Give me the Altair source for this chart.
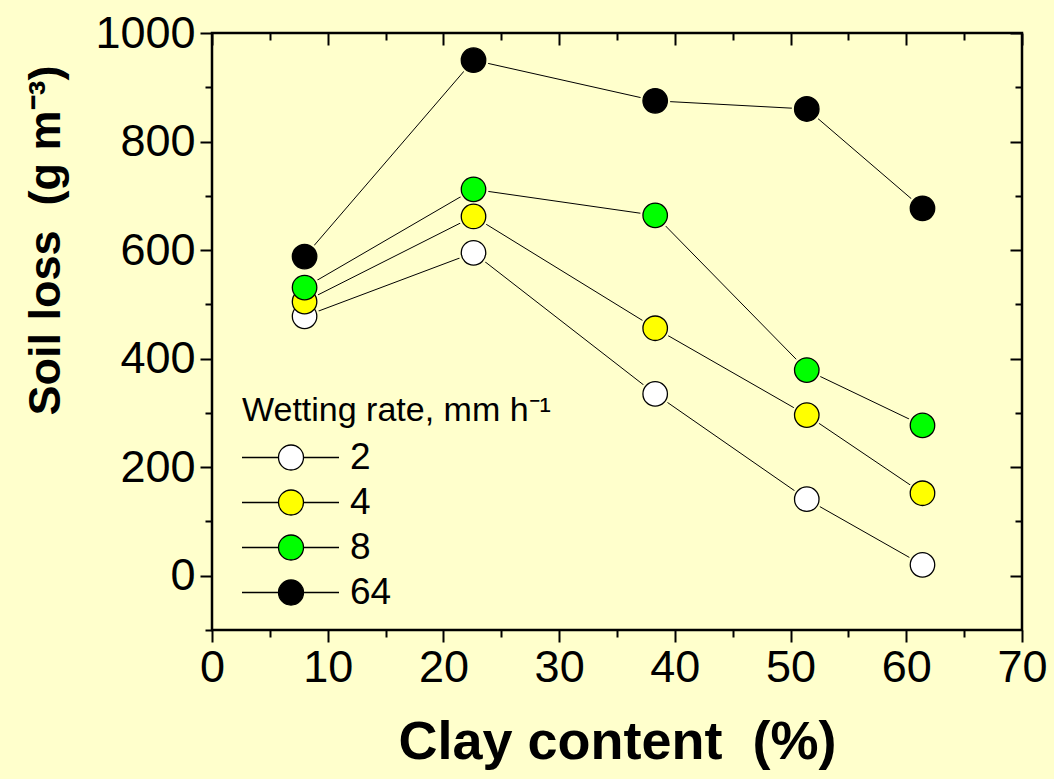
import altair as alt
import pandas as pd

# ---- data ----
clay = [8.0, 22.6, 38.3, 51.4, 61.4]
rates = ["2", "4", "8", "64"]
loss_2 = [478, 595, 335, 141, 20]
loss_4 = [505, 662, 456, 296, 152]
loss_8 = [531, 712, 664, 379, 277]
loss_64 = [588, 950, 875, 860, 677]
fills = ["#FFFFFF", "#FFFF00", "#00FF00", "#000000"]

x_major = [0, 10, 20, 30, 40, 50, 60, 70]
x_minor = [5, 15, 25, 35, 45, 55, 65]
y_major = [0, 200, 400, 600, 800, 1000]
y_minor = [-100, 100, 300, 500, 700, 900]

rows = []
for r, vals in zip(rates, [loss_2, loss_4, loss_8, loss_64]):
    for c, v in zip(clay, vals):
        rows.append({"clay": c, "loss": v, "rate": r})
df = pd.DataFrame(rows)

BG = "#FFFFCC"
FONT = "Liberation Sans"
W, H = 810, 597

xs = alt.Scale(domain=[0, 70], nice=False, zero=False)
ys = alt.Scale(domain=[-100, 1000], nice=False, zero=False)


def ax(orient, values, size, offset=None, labels=False, **kw):
    args = dict(orient=orient, values=values, tickSize=size, tickWidth=2,
                tickColor="black", domain=False, grid=False, labels=labels,
                title=None)
    if offset is not None:
        args["offset"] = offset
    args.update(kw)
    return alt.Axis(**args)


base = alt.Chart(df)

# layer A: lines + main axes
lines = base.mark_line(color="black", strokeWidth=1).encode(
    x=alt.X("clay:Q", scale=xs, axis=ax(
        "bottom", x_major, 12, labels=True, labelFontSize=45, labelFont=FONT,
        labelColor="black", labelPadding=3, labelFlush=False,
        title="Clay content\u00a0\u00a0(%)", titleFontSize=54, titleFont=FONT,
        titleFontWeight="bold", titleColor="black", titlePadding=25)),
    y=alt.Y("loss:Q", scale=ys, axis=ax(
        "left", y_major, 12, labels=True, labelFontSize=45, labelFont=FONT,
        labelColor="black", labelPadding=5, format="d", labelFlush=False,
        title="Soil loss\u00a0\u00a0(g m\u207b\u00b3)", titleFontSize=45,
        titleFont=FONT, titleFontWeight="bold", titleColor="black",
        titlePadding=26, titleY=207)),
    detail="rate:N",
)

# layer B: halos + minor bottom/left ticks
halos = base.mark_circle(size=900, color=BG, opacity=1).encode(
    x=alt.X("clay:Q", scale=xs, axis=ax("bottom", x_minor, 7)),
    y=alt.Y("loss:Q", scale=ys, axis=ax("left", y_minor, 7)),
)

# layer C: points + major top/right (inward) ticks
sym = ("M-1.48,0 L1.44,0 M3.44,0 L6.28,0 "
       "M1.44,0 A1,1 0 1,0 3.44,0 A1,1 0 1,0 1.44,0 Z")
points = base.mark_circle(size=600, stroke="black", strokeWidth=1.3, opacity=1).encode(
    x=alt.X("clay:Q", scale=xs, axis=ax("bottom", x_major, 12, offset=-H)),
    y=alt.Y("loss:Q", scale=ys, axis=ax("left", y_major, 12, offset=-W)),
    fill=alt.Fill("rate:N", scale=alt.Scale(domain=rates, range=fills),
                  legend=alt.Legend(
                      orient="none", legendX=30, legendY=361,
                      title="Wetting rate, mm h\u207b\u00b9", titleFontSize=34,
                      titleFont=FONT, titleFontWeight="normal", titleColor="black",
                      titleLimit=600, titlePadding=11,
                      labelFontSize=37, labelFont=FONT, labelColor="black",
                      labelOffset=71, labelLimit=300,
                      symbolType=sym, symbolSize=625, symbolStrokeColor="black",
                      symbolStrokeWidth=1.3, symbolOpacity=1, rowPadding=7)),
    order=alt.Order("ord:Q"),
).transform_calculate(ord="indexof(['2','4','8','64'], datum.rate)")

# layer D: minor top/right ticks
minor2 = base.mark_circle(opacity=0).encode(
    x=alt.X("clay:Q", scale=xs, axis=ax("bottom", x_minor, 7, offset=-H)),
    y=alt.Y("loss:Q", scale=ys, axis=ax("left", y_minor[1:], 7, offset=-W)),
)

chart = alt.layer(lines, halos, points, minor2).resolve_axis(
    x="independent", y="independent"
).properties(
    width=W, height=H,
    autosize=alt.AutoSizeParams(type="none"),
    padding={"left": 212, "top": 33, "right": 32, "bottom": 149},
    background=BG,
).configure_view(stroke="black", strokeWidth=2.5)

chart.save("out.html", embed_options={"renderer": "svg", "actions": False})
